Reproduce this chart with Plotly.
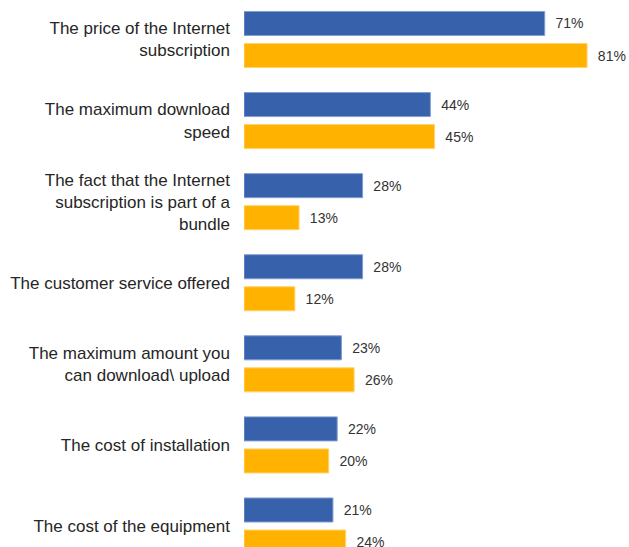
import plotly.graph_objects as go

categories = [
    "The price of the Internet<br>subscription",
    "The maximum download<br>speed",
    "The fact that the Internet<br>subscription is part of a<br>bundle",
    "The customer service offered",
    "The maximum amount you<br>can download\\ upload",
    "The cost of installation",
    "The cost of the equipment",
]
series_a = [71, 44, 28, 28, 23, 22, 21]
series_b = [81, 45, 13, 12, 26, 20, 24]

FONT = "Liberation Sans, Arial, sans-serif"
pad = "\u00a0\u00a0"

fig = go.Figure()
fig.add_trace(go.Bar(
    y=categories, x=series_a, orientation="h", name="Series A",
    marker=dict(color="#3761AA", line=dict(color="#7F9ED3", width=1)),
    texttemplate=pad + "%{x}%", textposition="outside", cliponaxis=False,
    textfont=dict(family=FONT, size=14, color="#333333"),
))
fig.add_trace(go.Bar(
    y=categories, x=series_b, orientation="h", name="Series B",
    marker=dict(color="#FFB200", line=dict(color="#FFD36B", width=1)),
    texttemplate=pad + "%{x}%", textposition="outside", cliponaxis=False,
    textfont=dict(family=FONT, size=14, color="#333333"),
))

fig.update_layout(
    width=629, height=547,
    margin=dict(l=244, r=0, t=0, b=0, autoexpand=False),
    barmode="group", bargap=0.21, bargroupgap=0.25,
    plot_bgcolor="white", paper_bgcolor="white",
    showlegend=False,
    font=dict(family=FONT, color="#262626"),
)
fig.update_xaxes(range=[0, 90.9], visible=False, automargin=False)
fig.update_yaxes(
    type="category", categoryorder="array", categoryarray=categories,
    range=[6.259, -0.487], automargin=False,
    showgrid=False, zeroline=False, showline=False, ticks="",
    ticklabelstandoff=13,
    tickfont=dict(family=FONT, size=17, color="#262626"),
)

fig.write_html(
    "out.html",
    config={"displayModeBar": False},
    post_script="document.body.style.margin='0';document.body.style.overflow='hidden';",
)
